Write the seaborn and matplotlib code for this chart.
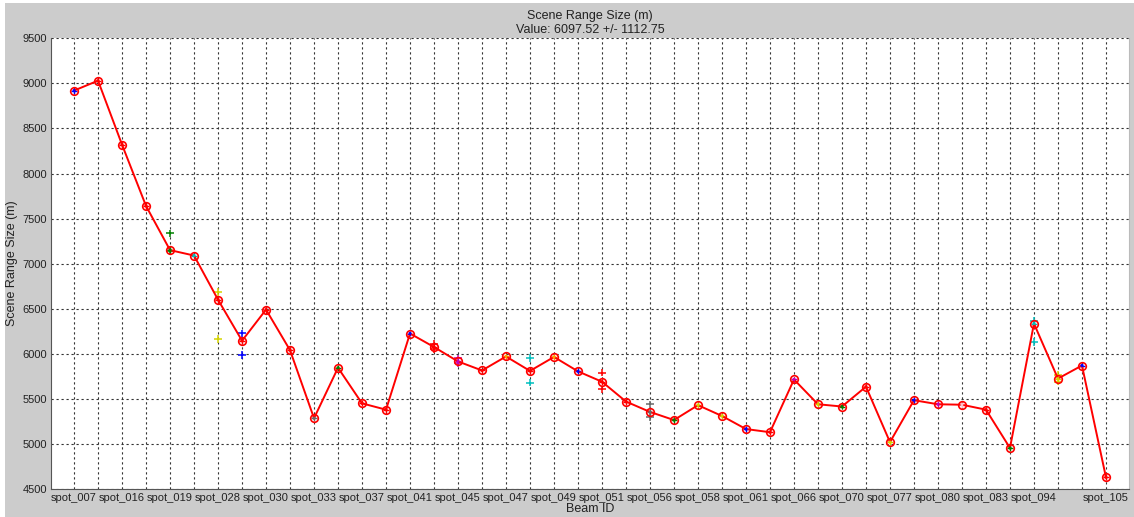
import pandas as pd
import seaborn as sns
import matplotlib.pyplot as plt
from matplotlib.patches import Rectangle

# Scene range size per beam (red mean line)
range_size = [8920, 9030, 8320, 7640, 7150, 7090, 6600, 6145, 6490, 6040,
              5285, 5845, 5450, 5380, 6225, 6075, 5915, 5815, 5970, 5810,
              5965, 5805, 5690, 5470, 5355, 5265, 5430, 5310, 5165, 5130,
              5715, 5440, 5415, 5635, 5020, 5485, 5440, 5435, 5380, 4955,
              6335, 5725, 5870, 4630]

# colour of the small marker inside each circle
inner_color = ['blue', 'red', 'red', 'red', 'green', 'c', 'red', 'red', 'red', 'red',
               'dimgray', 'green', 'red', 'red', 'blue', 'red', 'm', 'red', 'orange', 'red',
               'orange', 'blue', 'red', 'red', 'dimgray', 'green', '#d4d400', '#d4d400', 'blue', 'red',
               'm', '#d4d400', 'green', 'red', '#d4d400', 'blue', 'm', 'pink', 'red', 'green',
               'c', '#d4d400', 'blue', 'red']

# individual measurements that stand off the line
extra_idx = [4, 4, 6, 6, 7, 7, 15, 15, 16, 16, 19, 19, 22, 22, 24, 24, 40, 40, 41, 41]
extra_val = [7335, 7140, 6685, 6163, 6227, 5988, 6110, 6050, 5950, 5895,
             5955, 5680, 5790, 5605, 5440, 5300, 6365, 6130, 5770, 5690]
extra_col = ['green', 'green', '#d4d400', '#d4d400', 'blue', 'blue', 'red', 'red', 'm', 'm',
             'c', 'c', 'red', 'red', 'dimgray', 'dimgray', 'c', 'c', '#d4d400', '#d4d400']

tick_pos = [0, 2, 4, 6, 8, 10, 12, 14, 16, 18, 20, 22, 24, 26, 28, 30, 32, 34, 36, 38, 40, 43]
tick_labels = ['spot_007', 'spot_016', 'spot_019', 'spot_028', 'spot_030', 'spot_033',
               'spot_037', 'spot_041', 'spot_045', 'spot_047', 'spot_049', 'spot_051',
               'spot_056', 'spot_058', 'spot_061', 'spot_066', 'spot_070', 'spot_077',
               'spot_080', 'spot_083', 'spot_094', 'spot_105']

df = pd.DataFrame({"beam": range(len(range_size)), "size": range_size, "inner": inner_color})
df_extra = pd.DataFrame({"beam": extra_idx, "size": extra_val, "col": extra_col})

sns.set_style("white")
plt.rcParams['font.family'] = ['Liberation Sans', 'DejaVu Sans']

fig = plt.figure(figsize=(11.34, 5.17), dpi=100)
fig.patch.set_facecolor('white')
fig.patches.append(Rectangle((5 / 1134, 0), 1, 1 - 3 / 517, transform=fig.transFigure,
                             facecolor='#cccccc', edgecolor='none', zorder=-10))

ax = fig.add_axes([51 / 1134, 1 - 489 / 517, 1078 / 1134, 450.7 / 517])
ax.set_facecolor('white')

# colored pluses (individual values)
sns.scatterplot(data=df_extra, x="beam", y="size", marker='+', s=28, linewidth=1.1,
                color=df_extra["col"].tolist(), ax=ax, zorder=3, legend=False)
sns.scatterplot(data=df, x="beam", y="size", marker='+', s=18, linewidth=1.0,
                color=df["inner"].tolist(), ax=ax, zorder=3, legend=False)
# red mean line
sns.lineplot(data=df, x="beam", y="size", color='red', lw=1.4, marker='o', markersize=5.5,
             markerfacecolor='none', markeredgecolor='red', markeredgewidth=1.2, ax=ax, zorder=4)
sns.scatterplot(data=df, x="beam", y="size", marker='o', s=5, linewidth=0,
                color=df["inner"].tolist(), ax=ax, zorder=5, legend=False)

ax.set_xlim(-0.96, 43.96)
ax.set_ylim(4500, 9500)
ax.set_yticks(range(4500, 9501, 500))
ax.set_xticks(range(len(range_size)))
labels = [''] * len(range_size)
for p, t in zip(tick_pos, tick_labels):
    labels[p] = t
ax.set_xticklabels(labels)
ax.tick_params(axis='both', direction='in', length=7, width=1, color='#888888',
               labelsize=8, labelcolor='#222222', pad=3)

ax.grid(True, linestyle=(0, (2, 2.5)), color='#333333', linewidth=0.8)
ax.set_axisbelow(True)

ax.spines['top'].set_visible(False)
ax.spines['right'].set_color('#bbbbbb')
ax.spines['left'].set_color('#555555')
ax.spines['bottom'].set_color('#555555')

ax.set_title("Scene Range Size (m)\nValue: 6097.52 +/- 1112.75", fontsize=9, pad=4, color='#222222')
ax.set_xlabel("Beam ID", fontsize=9, color='#222222')
ax.set_ylabel("Scene Range Size (m)", fontsize=9, color='#222222')
ax.yaxis.set_label_coords(-0.031, 0.5)
ax.xaxis.set_label_coords(0.5, -0.030)

fig.savefig("out.png", dpi=100)
